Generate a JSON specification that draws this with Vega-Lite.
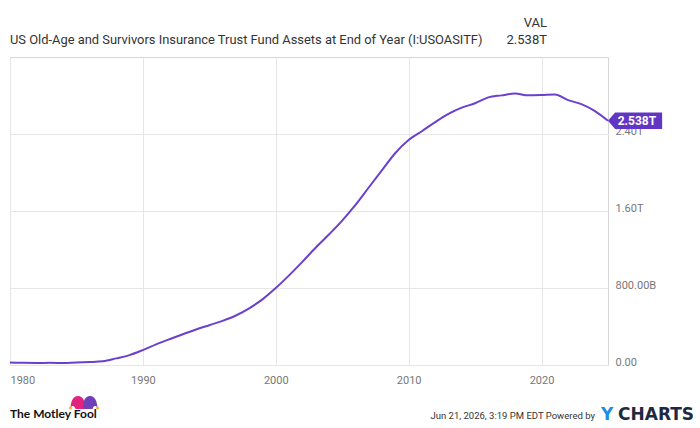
{
  "$schema": "https://vega.github.io/schema/vega-lite/v6.json",
  "width": 598,
  "height": 308,
  "autosize": {"type": "none"},
  "padding": {"left": 10, "top": 57, "right": 92, "bottom": 63},
  "background": "#ffffff",
  "config": {
    "view": {"stroke": "#d6d6d6", "strokeWidth": 1},
    "font": "Roboto"
  },
  "datasets": {
    "fund": [
      {"date": "1979-12-31", "assets": 24.7},
      {"date": "1980-12-31", "assets": 22.8},
      {"date": "1981-12-31", "assets": 21.5},
      {"date": "1982-12-31", "assets": 22.1},
      {"date": "1983-12-31", "assets": 19.7},
      {"date": "1984-12-31", "assets": 27.1},
      {"date": "1985-12-31", "assets": 31.1},
      {"date": "1986-12-31", "assets": 39.1},
      {"date": "1987-12-31", "assets": 68.8},
      {"date": "1988-12-31", "assets": 102.9},
      {"date": "1989-12-31", "assets": 155.1},
      {"date": "1990-12-31", "assets": 214.2},
      {"date": "1991-12-31", "assets": 267.8},
      {"date": "1992-12-31", "assets": 319.2},
      {"date": "1993-12-31", "assets": 369.3},
      {"date": "1994-12-31", "assets": 413.5},
      {"date": "1995-12-31", "assets": 458.5},
      {"date": "1996-12-31", "assets": 514.0},
      {"date": "1997-12-31", "assets": 589.1},
      {"date": "1998-12-31", "assets": 681.6},
      {"date": "1999-12-31", "assets": 798.8},
      {"date": "2000-12-31", "assets": 931.0},
      {"date": "2001-12-31", "assets": 1071.5},
      {"date": "2002-12-31", "assets": 1217.5},
      {"date": "2003-12-31", "assets": 1355.3},
      {"date": "2004-12-31", "assets": 1500.6},
      {"date": "2005-12-31", "assets": 1663.0},
      {"date": "2006-12-31", "assets": 1844.3},
      {"date": "2007-12-31", "assets": 2023.9},
      {"date": "2008-12-31", "assets": 2202.9},
      {"date": "2009-12-31", "assets": 2336.8},
      {"date": "2010-12-31", "assets": 2429.0},
      {"date": "2011-12-31", "assets": 2524.0},
      {"date": "2012-12-31", "assets": 2609.7},
      {"date": "2013-12-31", "assets": 2674.0},
      {"date": "2014-12-31", "assets": 2719.4},
      {"date": "2015-12-31", "assets": 2780.3},
      {"date": "2016-12-31", "assets": 2801.4},
      {"date": "2017-12-31", "assets": 2820.3},
      {"date": "2018-12-31", "assets": 2801.8},
      {"date": "2019-12-31", "assets": 2804.4},
      {"date": "2020-12-31", "assets": 2809.4},
      {"date": "2021-12-31", "assets": 2752.0},
      {"date": "2022-12-31", "assets": 2711.1},
      {"date": "2023-12-31", "assets": 2641.0},
      {"date": "2024-12-31", "assets": 2538.0}
    ],
    "last": [
      {"date": "2024-12-31", "assets": 2538.0, "label": "2.538T"}
    ],
    "headerRight": [
      {"what": "VAL", "date": "2020-05-29", "assets": 3553},
      {"what": "2.538T", "date": "2020-05-29", "assets": 3377}
    ],
    "headerLeft": [
      {"what": "US Old-Age and Survivors Insurance Trust Fund Assets at End of Year (I:USOASITF)", "date": "1980-01-01", "assets": 3377}
    ],
    "logoText": [
      {"what": "The Motley Fool", "date": "1980-01-01", "assets": -509}
    ],
    "stamp": [
      {"what": "Jun 21, 2026, 3:19 PM EDT Powered by", "date": "2024-01-08", "assets": -527}
    ],
    "brandY": [
      {"what": "Y", "date": "2024-05-27", "assets": -520}
    ],
    "brandRest": [
      {"what": "CHARTS", "date": "2024-05-27", "assets": -520}
    ],
    "hat": [
      {"part": "hat", "date": "1985-07-27", "assets": -395}
    ]
  },
  "encoding": {
    "x": {
      "field": "date",
      "type": "temporal",
      "scale": {"domain": ["1980-01-01", "2025-01-01"]},
      "axis": {
        "title": null,
        "values": [{"year": 1980}, {"year": 1990}, {"year": 2000}, {"year": 2010}, {"year": 2020}],
        "format": "%Y",
        "grid": true,
        "gridColor": "#e6e6e6",
        "domain": false,
        "ticks": false,
        "labelFlush": true,
        "labelPadding": 9,
        "labelFont": "Roboto",
        "labelFontSize": 11,
        "labelColor": "#777777"
      }
    },
    "y": {
      "field": "assets",
      "type": "quantitative",
      "scale": {"domain": [0, 3200], "nice": false},
      "axis": {
        "title": null,
        "orient": "right",
        "values": [0, 800, 1600, 2400],
        "labelExpr": "datum.value == 0 ? '0.00' : (datum.value < 1000 ? format(datum.value, '.2f') + 'B' : format(datum.value / 1000, '.2f') + 'T')",
        "grid": true,
        "gridColor": "#e6e6e6",
        "domain": false,
        "ticks": false,
        "labelAlign": "left",
        "labelBaseline": "alphabetic",
        "labelPadding": 7,
        "labelFont": "Roboto",
        "labelFontSize": 11,
        "labelColor": "#777777"
      }
    }
  },
  "layer": [
    {
      "data": {"name": "fund"},
      "mark": {"type": "line", "color": "#6b40cc", "strokeWidth": 2, "interpolate": "monotone"}
    },
    {
      "data": {"name": "last"},
      "mark": {
        "type": "point",
        "shape": "M0,0 L0.26,-0.3 L1.97,-0.3 L1.97,0.3 L0.26,0.3 Z",
        "size": 3025,
        "filled": true,
        "color": "#6236c4",
        "opacity": 1,
        "strokeWidth": 0
      }
    },
    {
      "data": {"name": "last"},
      "mark": {"type": "text", "color": "#ffffff", "font": "Roboto", "fontWeight": "bold", "fontSize": 12, "align": "center", "baseline": "middle", "dx": 29, "dy": 0.5},
      "encoding": {"text": {"field": "label"}}
    },
    {
      "data": {"name": "headerRight"},
      "mark": {"type": "text", "color": "#333333", "font": "Roboto", "fontSize": 13, "align": "right", "baseline": "middle"},
      "encoding": {"text": {"field": "what"}}
    },
    {
      "data": {"name": "headerLeft"},
      "mark": {"type": "text", "color": "#333333", "font": "Roboto", "fontSize": 12.9, "align": "left", "baseline": "middle"},
      "encoding": {"text": {"field": "what"}}
    },
    {
      "data": {"name": "logoText"},
      "mark": {"type": "text", "color": "#111111", "font": "Lato", "fontWeight": "bold", "fontSize": 12, "align": "left", "baseline": "middle"},
      "encoding": {"text": {"field": "what"}}
    },
    {
      "data": {"name": "stamp"},
      "mark": {"type": "text", "color": "#333333", "font": "Roboto", "fontSize": 9.5, "align": "right", "baseline": "middle"},
      "encoding": {"text": {"field": "what"}}
    },
    {
      "data": {"name": "brandY"},
      "mark": {"type": "text", "color": "#1a8fe3", "font": "DejaVu Sans", "fontWeight": "bold", "fontSize": 17, "align": "left", "baseline": "middle", "dx": 1},
      "encoding": {"text": {"field": "what"}}
    },
    {
      "data": {"name": "brandRest"},
      "mark": {"type": "text", "color": "#1d2a3f", "font": "DejaVu Sans", "fontWeight": "bold", "fontSize": 17, "align": "left", "baseline": "middle", "dx": 18},
      "encoding": {"text": {"field": "what"}}
    },
    {
      "data": {"name": "hat"},
      "mark": {"type": "point", "shape": "M-1.35,0.45 C-1.3,-0.3 -1.0,-0.75 -0.55,-0.7 C-0.15,-0.65 0.05,-0.3 0.05,0.1 L0.05,0.6 L-0.85,0.6 C-0.95,0.3 -1.1,0.2 -1.35,0.45 Z", "size": 400, "filled": true, "color": "#e2237d", "opacity": 1, "strokeWidth": 0}
    },
    {
      "data": {"name": "hat"},
      "mark": {"type": "point", "shape": "M1.35,0.45 C1.3,-0.3 1.0,-0.75 0.55,-0.7 C0.15,-0.65 -0.05,-0.3 -0.05,0.1 L-0.05,0.6 L0.85,0.6 C0.95,0.3 1.1,0.2 1.35,0.45 Z", "size": 400, "filled": true, "color": "#7040b8", "opacity": 1, "strokeWidth": 0}
    },
    {
      "data": {"name": "hat"},
      "mark": {"type": "point", "shape": "M-1.5,0.5 a0.15,0.15 0 1,0 0.3,0 a0.15,0.15 0 1,0 -0.3,0 Z M1.2,0.5 a0.15,0.15 0 1,0 0.3,0 a0.15,0.15 0 1,0 -0.3,0 Z", "size": 400, "filled": true, "color": "#f5b921", "opacity": 1, "strokeWidth": 0}
    }
  ]
}
